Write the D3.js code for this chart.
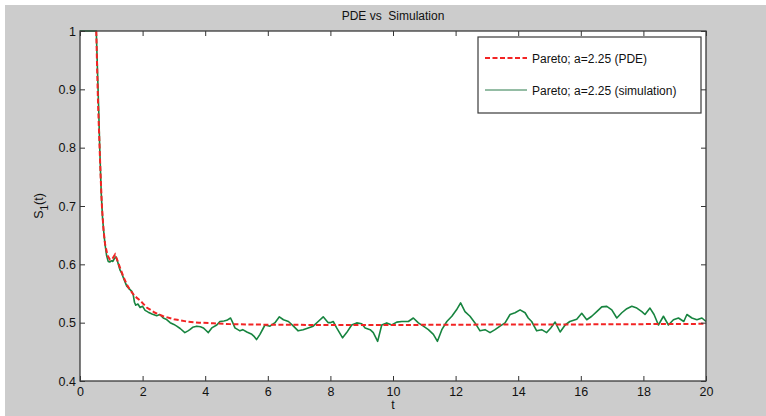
<!DOCTYPE html>
<html>
<head>
<meta charset="utf-8">
<script src="https://cdn.jsdelivr.net/npm/d3@7"></script>
<style>
    body { margin: 0; background: #ffffff; }
    text { font-family: "Liberation Sans", Arial, sans-serif; }
</style>
</head>
<body>
<div id="chart"></div>
<script>
const title = "PDE vs  Simulation";
const series_names = ["Pareto; a=2.25 (PDE)", "Pareto; a=2.25 (simulation)"];

const x_ticks = [0, 2, 4, 6, 8, 10, 12, 14, 16, 18, 20];
const y_ticks = [0.4, 0.5, 0.6, 0.7, 0.8, 0.9, 1];
const y_tick_labels = ["0.4", "0.5", "0.6", "0.7", "0.8", "0.9", "1"];

// PDE solution
const pde_t = [0.52, 0.55, 0.58, 0.62, 0.66, 0.70, 0.75, 0.80, 0.88, 0.96, 1.04, 1.12, 1.20, 1.28, 1.40,
    1.50, 1.60, 1.76, 1.92, 2.13, 2.40, 2.66, 3.00, 3.41, 3.80, 4.26, 4.80, 5.33, 6, 8, 10, 12, 14, 16, 18, 20];
const pde_v = [1.0, 0.93, 0.87, 0.81, 0.75, 0.70, 0.66, 0.635, 0.615, 0.608, 0.61, 0.617, 0.606, 0.594, 0.577,
    0.565, 0.556, 0.545, 0.538, 0.526, 0.517, 0.511, 0.506, 0.502, 0.500, 0.499, 0.4975, 0.497, 0.4965, 0.496, 0.496, 0.4965, 0.497, 0.497, 0.4975, 0.498];

// simulation
const sim_t = [0, 0.50, 0.52, 0.56, 0.60, 0.63, 0.68, 0.72, 0.76, 0.80, 0.85, 0.90, 0.95, 1.00, 1.05, 1.10, 1.15, 1.20,
    1.28, 1.33, 1.40, 1.49, 1.57, 1.65, 1.70, 1.74, 1.78, 1.85, 1.92, 2.00, 2.08, 2.18, 2.30, 2.45, 2.55, 2.66, 2.75,
    2.88, 3.00, 3.09, 3.20, 3.35, 3.45, 3.51, 3.60, 3.73, 3.85, 3.94, 4.02, 4.10, 4.21, 4.37, 4.47, 4.60, 4.69, 4.81,
    4.88, 4.95, 5.11, 5.20, 5.33, 5.49, 5.57, 5.64, 5.75, 5.85, 5.91, 6.07, 6.23, 6.37, 6.50, 6.66, 6.82, 6.97, 7.13,
    7.29, 7.45, 7.61, 7.77, 7.93, 8.00, 8.09, 8.20, 8.39, 8.52, 8.68, 8.84, 9.00, 9.11, 9.27, 9.37, 9.51, 9.64, 9.80,
    9.96, 10.12, 10.28, 10.49, 10.65, 10.81, 10.97, 11.13, 11.29, 11.42, 11.56, 11.72, 11.88, 12.03, 12.16, 12.30,
    12.46, 12.62, 12.78, 12.94, 13.10, 13.26, 13.42, 13.58, 13.74, 13.90, 14.06, 14.22, 14.32, 14.43, 14.59, 14.75,
    14.91, 15.04, 15.18, 15.34, 15.50, 15.65, 15.87, 16.03, 16.19, 16.35, 16.51, 16.67, 16.83, 16.99, 17.15, 17.31,
    17.47, 17.63, 17.79, 17.95, 18.05, 18.21, 18.34, 18.48, 18.64, 18.80, 18.96, 19.12, 19.29, 19.39, 19.55, 19.71,
    19.87, 20];
const sim_v = [1, 1, 1, 0.93, 0.86, 0.80, 0.72, 0.68, 0.655, 0.634, 0.615, 0.605, 0.604, 0.606, 0.605, 0.61, 0.613, 0.605,
    0.59, 0.585, 0.575, 0.563, 0.558, 0.554, 0.548, 0.535, 0.53, 0.532, 0.526, 0.528, 0.521, 0.518, 0.515, 0.512, 0.514, 0.508, 0.506,
    0.50, 0.497, 0.494, 0.49, 0.483, 0.486, 0.488, 0.492, 0.494, 0.493, 0.491, 0.487, 0.483, 0.491, 0.496, 0.502, 0.503, 0.504, 0.508,
    0.50, 0.491, 0.486, 0.488, 0.484, 0.48, 0.476, 0.471, 0.48, 0.49, 0.496, 0.494, 0.50, 0.51, 0.505, 0.502, 0.494, 0.486, 0.488,
    0.491, 0.494, 0.502, 0.51, 0.50, 0.50, 0.502, 0.491, 0.474, 0.483, 0.496, 0.4996, 0.498, 0.491, 0.488, 0.483, 0.468, 0.496, 0.4996,
    0.496, 0.501, 0.502, 0.502, 0.508, 0.4996, 0.494, 0.488, 0.48, 0.468, 0.488, 0.502, 0.511, 0.522, 0.534, 0.519,
    0.511, 0.4996, 0.486, 0.488, 0.483, 0.488, 0.494, 0.4996, 0.514, 0.517, 0.522, 0.517, 0.508, 0.502, 0.486, 0.488,
    0.483, 0.491, 0.501, 0.484, 0.496, 0.502, 0.506, 0.516, 0.505, 0.511, 0.519, 0.527, 0.528, 0.522, 0.508, 0.517,
    0.524, 0.528, 0.525, 0.519, 0.514, 0.525, 0.514, 0.496, 0.511, 0.496, 0.505, 0.508, 0.502, 0.514, 0.508, 0.505,
    0.508, 0.502];

const pde_data = pde_t.map((t, i) => [t, pde_v[i]]);
const sim_data = sim_t.map((t, i) => [t, sim_v[i]]);

const total_w = 766, total_h = 416;
const margin = { top: 31, right: 60, bottom: 35, left: 80 };
const width = total_w - margin.left - margin.right;
const height = total_h - margin.top - margin.bottom;

const root = d3.select("#chart")
    .append("svg")
    .attr("width", total_w)
    .attr("height", total_h);

// grey figure background
root.append("rect")
    .attr("x", 5)
    .attr("y", 5)
    .attr("width", total_w - 5)
    .attr("height", total_h - 5)
    .attr("fill", "#cccccc");

const svg = root.append("g")
    .attr("transform", `translate(${margin.left},${margin.top})`);

svg.append("rect")
    .attr("width", width)
    .attr("height", height)
    .attr("fill", "#ffffff");

const x = d3.scaleLinear().domain([0, 20]).range([0, width]);
const y = d3.scaleLinear().domain([0.4, 1]).range([height, 0]);

svg.append("defs").append("clipPath")
    .attr("id", "plot-clip")
    .append("rect")
    .attr("x", 0).attr("y", -1)
    .attr("width", width).attr("height", height + 1);

const line = d3.line()
    .x(d => x(d[0]))
    .y(d => y(d[1]));

const plot = svg.append("g").attr("clip-path", "url(#plot-clip)");

plot.append("path")
    .datum(sim_data)
    .attr("fill", "none")
    .attr("stroke", "#17843f")
    .attr("stroke-width", 1.6)
    .attr("stroke-linejoin", "round")
    .attr("d", line);

plot.append("path")
    .datum(pde_data)
    .attr("fill", "none")
    .attr("stroke", "#f22424")
    .attr("stroke-width", 2)
    .attr("stroke-dasharray", "5,2.5")
    .attr("d", line);

// axes, ticks pointing inwards on all four sides
function style_axis(g) {
    g.select(".domain").remove();
    g.selectAll(".tick line").attr("stroke", "#333333");
    g.selectAll(".tick text")
        .style("font-family", "Liberation Sans, Arial, sans-serif")
        .style("font-size", "12.5px")
        .attr("fill", "#111111");
}

svg.append("g")
    .attr("transform", `translate(0,${height})`)
    .call(d3.axisBottom(x).tickValues(x_ticks).tickSizeInner(-5).tickSizeOuter(0).tickPadding(6).tickFormat(d3.format("d")))
    .call(style_axis);

svg.append("g")
    .call(d3.axisTop(x).tickValues(x_ticks).tickSizeInner(-5).tickSizeOuter(0).tickFormat(""))
    .call(style_axis);

svg.append("g")
    .call(d3.axisLeft(y).tickValues(y_ticks).tickSizeInner(-5).tickSizeOuter(0).tickPadding(4)
        .tickFormat((d, i) => y_tick_labels[i]))
    .call(style_axis);

svg.append("g")
    .attr("transform", `translate(${width},0)`)
    .call(d3.axisRight(y).tickValues(y_ticks).tickSizeInner(-5).tickSizeOuter(0).tickFormat(""))
    .call(style_axis);

svg.append("rect")
    .attr("width", width)
    .attr("height", height)
    .attr("fill", "none")
    .attr("stroke", "#3a3a3a")
    .attr("stroke-width", 1.3);

// title and labels
svg.append("text")
    .attr("x", width / 2)
    .attr("y", -11)
    .attr("text-anchor", "middle")
    .style("font-size", "12px")
    .attr("fill", "#111111")
    .attr("xml:space", "preserve")
    .style("white-space", "pre")
    .text(title);

svg.append("text")
    .attr("x", width / 2)
    .attr("y", height + 28)
    .attr("text-anchor", "middle")
    .style("font-size", "12.5px")
    .attr("fill", "#111111")
    .text("t");

const ylab = svg.append("text")
    .attr("transform", `translate(${-37},${height / 2}) rotate(-90)`)
    .attr("text-anchor", "middle")
    .style("font-size", "12.5px")
    .attr("fill", "#111111");
ylab.append("tspan").text("S");
ylab.append("tspan").attr("dy", 5).style("font-size", "10px").text("1");
ylab.append("tspan").attr("dy", -5).text("(t)");

// legend
const legend = svg.append("g")
    .attr("transform", `translate(${478 - margin.left},${37 - margin.top})`);

legend.append("rect")
    .attr("width", 223)
    .attr("height", 76)
    .attr("fill", "#ffffff")
    .attr("stroke", "#3a3a3a")
    .attr("stroke-width", 1.2);

const legend_styles = [
    { color: "#f22424", width: 2, dash: "5,2.5", y: 21 },
    { color: "#2a7a4a", width: 1, dash: null, y: 53 }
];

series_names.forEach((name, i) => {
    const s = legend_styles[i];
    legend.append("line")
        .attr("x1", 7).attr("x2", 49)
        .attr("y1", s.y).attr("y2", s.y)
        .attr("stroke", s.color)
        .attr("stroke-width", s.width)
        .attr("stroke-dasharray", s.dash);
    legend.append("text")
        .attr("x", 54)
        .attr("y", s.y + 4.5)
        .style("font-size", "12px")
        .attr("fill", "#111111")
        .text(name);
});
</script>
</body>
</html>
